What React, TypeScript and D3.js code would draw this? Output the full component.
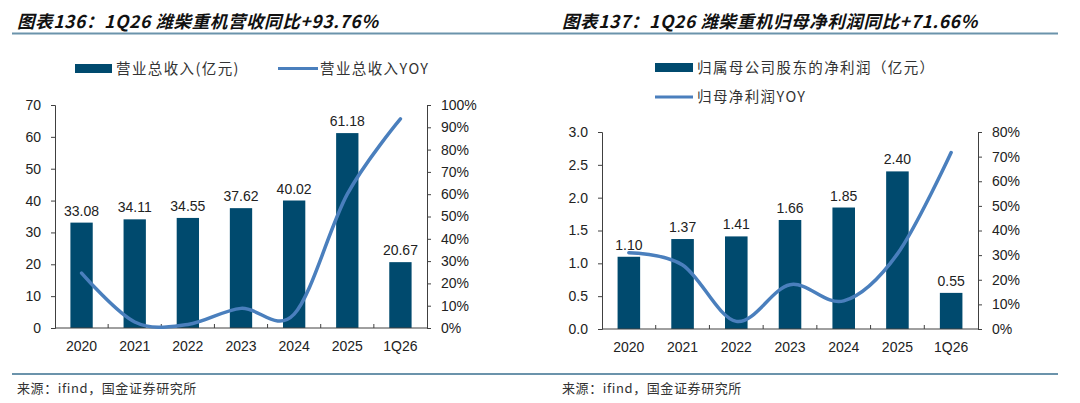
import React, { useEffect, useRef } from "react";
import * as d3 from "d3";

const categories = ["2020", "2021", "2022", "2023", "2024", "2025", "1Q26"];

// 图表136
const revenue = [33.08, 34.11, 34.55, 37.62, 40.02, 61.18, 20.67];
const revenueYoy = [0.246, 0.027, 0.016, 0.088, 0.062, 0.6, 0.9376];
const revenueTicks = [0, 10, 20, 30, 40, 50, 60, 70];
const revenueYoyTicks = [0, 0.1, 0.2, 0.3, 0.4, 0.5, 0.6, 0.7, 0.8, 0.9, 1.0];

// 图表137
const profit = [1.1, 1.37, 1.41, 1.66, 1.85, 2.4, 0.55];
const profitYoy = [0.31, 0.26, 0.031, 0.18, 0.114, 0.305, 0.7166];
const profitTicks = [0, 0.5, 1.0, 1.5, 2.0, 2.5, 3.0];
const profitYoyTicks = [0, 0.1, 0.2, 0.3, 0.4, 0.5, 0.6, 0.7, 0.8];

const barColor = "#004a6e";
const lineColor = "#4a7fbd";
const axisColor = "#404040";
const latin = "Arial, 'Liberation Sans', sans-serif";
const cjk = "'Noto Sans CJK SC', sans-serif";

type panel = {
    x0: number, x1: number, yTop: number, yBottom: number,
    bars: number[], yoy: number[],
    ticks: number[], rTicks: number[],
    fmt: (d: number) => string,
    labelFmt: (d: number) => string,
}

const drawPanel = (g: d3.Selection<SVGGElement, unknown, null, undefined>, p: panel) => {
    const x = d3.scaleBand().domain(categories).range([p.x0, p.x1]).paddingInner(0.58).paddingOuter(0.29)
    const y = d3.scaleLinear().domain([0, p.ticks[p.ticks.length - 1]]).range([p.yBottom, p.yTop])
    const y2 = d3.scaleLinear().domain([0, p.rTicks[p.rTicks.length - 1]]).range([p.yBottom, p.yTop])

    g.selectAll("rect.bar")
        .data(p.bars)
        .join("rect")
        .attr("class", "bar")
        .attr("x", (d, i) => x(categories[i])!)
        .attr("width", x.bandwidth())
        .attr("y", d => y(d))
        .attr("height", d => p.yBottom - y(d))
        .attr("fill", barColor)

    g.selectAll("text.val")
        .data(p.bars)
        .join("text")
        .attr("class", "val")
        .attr("x", (d, i) => x(categories[i])! + x.bandwidth() / 2)
        .attr("y", d => y(d) - 7)
        .attr("text-anchor", "middle")
        .attr("font-family", latin)
        .attr("font-size", 14)
        .attr("fill", "#222")
        .text(d => p.labelFmt(d))

    // left axis
    const left = g.append("g").attr("transform", `translate(${p.x0},0)`)
        .call(d3.axisLeft(y).tickValues(p.ticks).tickSize(4).tickPadding(10).tickFormat(d => p.fmt(+d)))
    // right axis
    const right = g.append("g").attr("transform", `translate(${p.x1},0)`)
        .call(d3.axisRight(y2).tickValues(p.rTicks).tickSize(4).tickPadding(10).tickFormat(d => `${Math.round(+d * 100)}%`))
    // bottom axis line with inward ticks at band edges
    const bottom = g.append("g")
    bottom.append("line")
        .attr("x1", p.x0).attr("x2", p.x1)
        .attr("y1", p.yBottom).attr("y2", p.yBottom)
        .attr("stroke", axisColor)
    const edges = categories.slice(1).map(c => x(c)! - (x.step() - x.bandwidth()) / 2)
    bottom.selectAll("line.tk")
        .data(edges)
        .join("line")
        .attr("class", "tk")
        .attr("x1", d => d).attr("x2", d => d)
        .attr("y1", p.yBottom).attr("y2", p.yBottom - 4)
        .attr("stroke", axisColor)
    bottom.selectAll("text")
        .data(categories)
        .join("text")
        .attr("x", d => x(d)! + x.bandwidth() / 2)
        .attr("y", p.yBottom + 23)
        .attr("text-anchor", "middle")
        .attr("font-family", latin)
        .attr("font-size", 14)
        .attr("fill", "#222")
        .text(d => d);

    [left, right].forEach(a => {
        a.select(".domain").attr("stroke", axisColor)
        a.selectAll(".tick line").attr("stroke", axisColor)
        a.selectAll(".tick text").attr("font-family", latin).attr("font-size", 14).attr("fill", "#222")
    })

    const line = d3.line<number>()
        .x((d, i) => x(categories[i])! + x.bandwidth() / 2)
        .y(d => y2(d))
        .curve(d3.curveCardinal)
    g.append("path")
        .attr("d", line(p.yoy))
        .attr("fill", "none")
        .attr("stroke", lineColor)
        .attr("stroke-width", 3.5)
        .attr("stroke-linecap", "round")
}

export default function App() {
    const ref = useRef<SVGSVGElement>(null)
    useEffect(() => {
        const svg = d3.select(ref.current)
        svg.selectAll("*").remove()

        // titles and rules
        const title = (x: number, t: string) => svg.append("text").attr("x", x).attr("y", 28)
            .attr("font-family", cjk).attr("font-size", 17.5).attr("font-weight", "bold")
            .attr("font-style", "italic").attr("letter-spacing", 0.6).attr("fill", "#111")
            .text(t)
        title(17, "图表136：1Q26 潍柴重机营收同比+93.76%")
        title(562, "图表137：1Q26 潍柴重机归母净利润同比+71.66%")
        svg.append("line").attr("x1", 12).attr("x2", 1058).attr("y1", 33.5).attr("y2", 33.5)
            .attr("stroke", "#6b93ab").attr("stroke-width", 2)
        svg.append("line").attr("x1", 12).attr("x2", 1058).attr("y1", 374).attr("y2", 374)
            .attr("stroke", "#6b93ab").attr("stroke-width", 2)
        const source = (x: number) => svg.append("text").attr("x", x).attr("y", 393)
            .attr("font-family", cjk).attr("font-size", 13).attr("letter-spacing", 0.6).attr("fill", "#333")
            .text("来源：ifind，国金证券研究所")
        source(17)
        source(562)

        // legends
        const legend = svg.append("g").attr("font-family", cjk).attr("font-size", 14.5)
            .attr("letter-spacing", 1.4).attr("fill", "#333")
        legend.append("rect").attr("x", 75).attr("y", 64).attr("width", 37).attr("height", 9).attr("fill", barColor)
        legend.append("text").attr("x", 116).attr("y", 74).text("营业总收入(亿元)")
        legend.append("line").attr("x1", 278).attr("x2", 318).attr("y1", 68.5).attr("y2", 68.5)
            .attr("stroke", lineColor).attr("stroke-width", 3)
        legend.append("text").attr("x", 320).attr("y", 74).text("营业总收入YOY")
        legend.append("rect").attr("x", 655).attr("y", 63).attr("width", 38).attr("height", 9).attr("fill", barColor)
        legend.append("text").attr("x", 697).attr("y", 73).text("归属母公司股东的净利润（亿元）")
        legend.append("line").attr("x1", 655).attr("x2", 693).attr("y1", 97).attr("y2", 97)
            .attr("stroke", lineColor).attr("stroke-width", 3)
        legend.append("text").attr("x", 697).attr("y", 102).text("归母净利润YOY")

        drawPanel(svg.append("g"), {
            x0: 55, x1: 427, yTop: 105, yBottom: 328,
            bars: revenue, yoy: revenueYoy,
            ticks: revenueTicks, rTicks: revenueYoyTicks,
            fmt: d => `${d}`, labelFmt: d => d.toFixed(2),
        })
        drawPanel(svg.append("g"), {
            x0: 602, x1: 978, yTop: 132, yBottom: 329,
            bars: profit, yoy: profitYoy,
            ticks: profitTicks, rTicks: profitYoyTicks,
            fmt: d => d.toFixed(1), labelFmt: d => d.toFixed(2),
        })
    }, [])
    return (
        <svg ref={ref} width={1080} height={403} viewBox="0 0 1080 403"
            style={{ position: "absolute", left: 0, top: 0, display: "block", background: "#fff" }} />
    )
}
